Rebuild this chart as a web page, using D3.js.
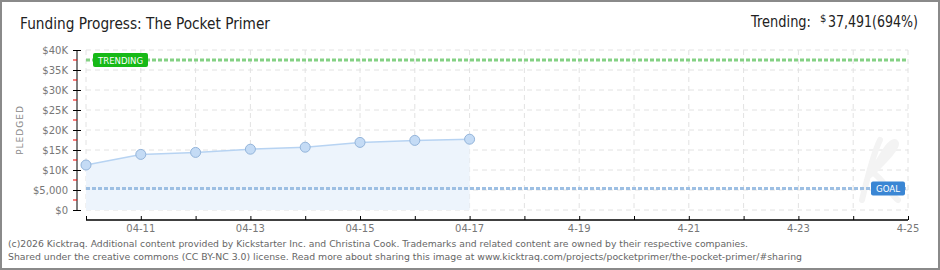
<!DOCTYPE html>
<meta charset="utf-8">
<style>
body { margin: 0; background: #fff; }
svg text { font-family: "DejaVu Sans", sans-serif; }
.grid line { stroke: #e2e2e2; stroke-dasharray: 5,4; }
.axis text { fill: #777; font-size: 10px; }
.foot { fill: #666; font-size: 9.5px; font-family: "DejaVu Sans", Verdana, sans-serif; }
</style>
<svg width="940" height="270"></svg>
<script src="https://cdn.jsdelivr.net/npm/d3@7"></script>
<script>

// data
var days = ["2026-04-10", "2026-04-11", "2026-04-12", "2026-04-13", "2026-04-14", "2026-04-15", "2026-04-16", "2026-04-17"];
var pledged = [11250, 13900, 14400, 15200, 15700, 16900, 17400, 17700];
var goal = 5400;
var trending = 37491;
var yTicks = [0, 5000, 10000, 15000, 20000, 25000, 30000, 35000, 40000];
var yTickLabels = ["$0", "$5,000", "$10K", "$15K", "$20K", "$25K", "$30K", "$35K", "$40K"];
var xTickDays = ["2026-04-11", "2026-04-13", "2026-04-15", "2026-04-17", "2026-04-19", "2026-04-21", "2026-04-23", "2026-04-25"];
var xTickLabels = ["04-11", "04-13", "04-15", "04-17", "4-19", "4-21", "4-23", "4-25"];

var parseDay = d3.timeParse("%Y-%m-%d");
var data = days.map(function(d, i) { return {day: parseDay(d), value: pledged[i]}; });

var svg = d3.select("svg");

// frame
svg.append("rect")
    .attr("x", 1).attr("y", 1).attr("width", 938).attr("height", 268)
    .attr("fill", "#fff").attr("stroke", "#8a8a8a").attr("stroke-width", 2);

var x = d3.scaleTime()
    .domain([parseDay("2026-04-10"), parseDay("2026-04-25")])
    .range([86, 908]);
var y = d3.scaleLinear().domain([0, 40000]).range([210, 50]);

var allDays = d3.timeDay.range(parseDay("2026-04-10"), d3.timeDay.offset(parseDay("2026-04-25"), 1));

// grid
var grid = svg.append("g").attr("class", "grid");
grid.selectAll(".v").data(allDays).enter().append("line")
    .attr("x1", function(d) { return x(d); }).attr("x2", function(d) { return x(d); })
    .attr("y1", y(40000)).attr("y2", y(0));
grid.selectAll(".h").data(yTicks).enter().append("line")
    .attr("x1", x.range()[0]).attr("x2", x.range()[1])
    .attr("y1", function(d) { return y(d); }).attr("y2", function(d) { return y(d); });

// faint watermark (kicktraq "k" mark)
svg.append("path")
    .attr("d", "M862,200 C868,175 875,150 880,140 M870,175 C885,160 900,145 895,142 C890,140 880,160 872,172 C885,180 890,195 898,200")
    .attr("fill", "none").attr("stroke", "#f3f3f3").attr("stroke-width", 6).attr("stroke-linecap", "round");

// area + line
var area = d3.area()
    .x(function(d) { return x(d.day); })
    .y0(y(0))
    .y1(function(d) { return y(d.value); });
var line = d3.line()
    .x(function(d) { return x(d.day); })
    .y(function(d) { return y(d.value); });

svg.append("path").datum(data).attr("d", area).attr("fill", "#edf4fc");
svg.append("path").datum(data).attr("d", line)
    .attr("fill", "none").attr("stroke", "#b7d3f2").attr("stroke-width", 1.5);

// goal and trending lines
svg.append("line")
    .attr("x1", x.range()[0]).attr("x2", x.range()[1])
    .attr("y1", y(goal)).attr("y2", y(goal))
    .attr("stroke", "#9dbfe3").attr("stroke-width", 3).attr("stroke-dasharray", "4,2");
svg.append("line")
    .attr("x1", x.range()[0]).attr("x2", x.range()[1])
    .attr("y1", y(trending)).attr("y2", y(trending))
    .attr("stroke", "#84d184").attr("stroke-width", 3).attr("stroke-dasharray", "4,2");

// points
svg.selectAll(".dot").data(data).enter().append("circle")
    .attr("cx", function(d) { return x(d.day); })
    .attr("cy", function(d) { return y(d.value); })
    .attr("r", 5)
    .attr("fill", "#c4dbf5").attr("stroke", "#93b4da").attr("stroke-width", 1);

// labels on the lines
function badge(cx, cy, w, fill, label) {
  svg.append("rect")
      .attr("x", cx).attr("y", cy - 7).attr("width", w).attr("height", 14)
      .attr("rx", 2).attr("fill", fill);
  svg.append("text")
      .attr("x", cx + 5).attr("y", cy + 4)
      .attr("fill", "#fff")
      .attr("textLength", w - 10).attr("lengthAdjust", "spacingAndGlyphs")
      .style("font-size", "9.5px")
      .text(label);
}
badge(93, y(trending), 55, "#17b917", "TRENDING");
badge(871, y(goal), 34, "#3a86d4", "GOAL");

// y axis
var yAxis = svg.append("g").attr("class", "axis")
    .attr("transform", "translate(77,0)")
    .call(d3.axisLeft(y).tickValues(yTicks).tickSize(4)
      .tickFormat(function(d, i) { return yTickLabels[i]; }));
yAxis.select(".domain").attr("d", "M0,50V210");
yAxis.selectAll(".tick line").attr("x1", -4).attr("x2", 4).attr("stroke", "#000");
yAxis.selectAll(".tick text").attr("x", -9);
yAxis.selectAll(".minor").data(d3.range(2500, 40000, 5000)).enter().append("line")
    .attr("x1", -4).attr("x2", 0)
    .attr("y1", function(d) { return y(d); }).attr("y2", function(d) { return y(d); })
    .attr("stroke", "#e00");

svg.append("text")
    .attr("transform", "translate(23,130) rotate(-90)")
    .attr("text-anchor", "middle")
    .attr("fill", "#888")
    .style("font-size", "9px").style("letter-spacing", "1px")
    .text("PLEDGED");

// x axis
var xAxis = svg.append("g").attr("class", "axis")
    .attr("transform", "translate(0,220)")
    .call(d3.axisBottom(x).tickValues(allDays).tickSize(0).tickFormat(""));
xAxis.select(".domain").attr("d", "M86,0H908").attr("stroke", "#000").attr("stroke-width", 1.5);
xAxis.selectAll(".tick line").attr("y1", -4).attr("y2", 0).attr("stroke", "#000");
xAxis.selectAll(".lbl").data(xTickDays).enter().append("text")
    .attr("x", function(d) { return x(parseDay(d)); })
    .attr("y", 12)
    .attr("text-anchor", "middle")
    .attr("fill", "#777")
    .text(function(d, i) { return xTickLabels[i]; });

// titles
svg.append("text")
    .attr("x", 20).attr("y", 29)
    .attr("fill", "#222")
    .attr("textLength", 250).attr("lengthAdjust", "spacingAndGlyphs")
    .style("font-size", "16px")
    .text("Funding Progress: The Pocket Primer");

svg.append("text")
    .attr("x", 751).attr("y", 27)
    .attr("fill", "#222")
    .attr("textLength", 60).attr("lengthAdjust", "spacingAndGlyphs")
    .style("font-size", "15px")
    .text("Trending:");
svg.append("text")
    .attr("x", 820).attr("y", 22)
    .attr("fill", "#222")
    .style("font-size", "10px")
    .text("$");
svg.append("text")
    .attr("x", 918).attr("y", 27)
    .attr("text-anchor", "end")
    .attr("fill", "#222")
    .attr("textLength", 90).attr("lengthAdjust", "spacingAndGlyphs")
    .style("font-size", "15px")
    .text(d3.format(",")(trending) + "(" + Math.round(trending / goal * 100) + "%)");

// footer
svg.append("text").attr("class", "foot")
    .attr("x", 8).attr("y", 247)
    .attr("textLength", 740).attr("lengthAdjust", "spacingAndGlyphs")
    .text("(c)2026 Kicktraq. Additional content provided by Kickstarter Inc. and Christina Cook. Trademarks and related content are owned by their respective companies.");
svg.append("text").attr("class", "foot")
    .attr("x", 8).attr("y", 260)
    .attr("textLength", 794).attr("lengthAdjust", "spacingAndGlyphs")
    .text("Shared under the creative commons (CC BY-NC 3.0) license. Read more about sharing this image at www.kicktraq.com/projects/pocketprimer/the-pocket-primer/#sharing");

</script>
